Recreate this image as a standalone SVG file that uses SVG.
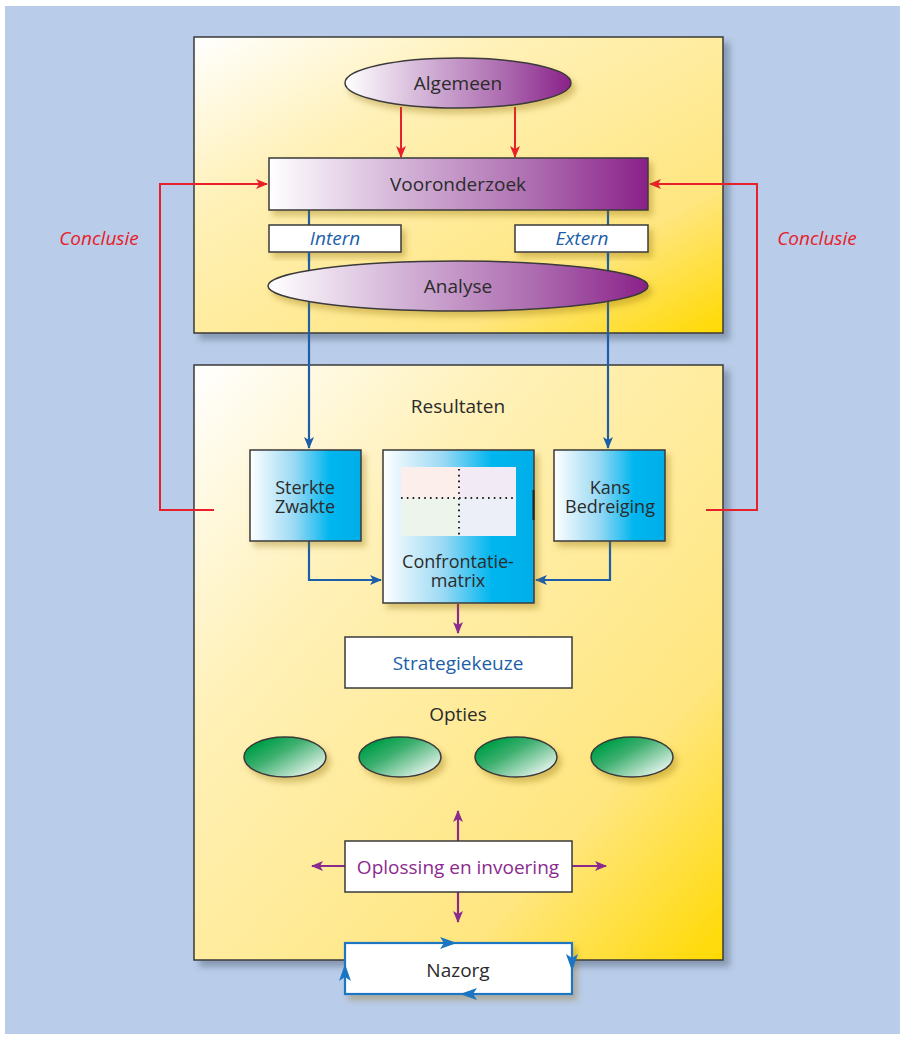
<svg xmlns="http://www.w3.org/2000/svg" width="905" height="1039" viewBox="0 0 905 1039">
<defs>
<style>
.t{font-family:"Open Sans","Noto Sans","Liberation Sans",sans-serif;font-size:19px;fill:#2b2b2b;text-anchor:middle}
.s{font-size:18px}
.it{font-style:italic}
.nb{stroke:#3a3a3a;stroke-width:1.5}
.red{stroke:#e8202a;stroke-width:2;fill:none}
.blue{stroke:#1c5ea8;stroke-width:2.2;fill:none}
.pur{stroke:#8b2a8e;stroke-width:2.2;fill:none}
</style>
<linearGradient id="panel" x1="0" y1="0" x2="1" y2="1">
<stop offset="0" stop-color="#ffffff"/>
<stop offset="0.3" stop-color="#fff1b8"/>
<stop offset="0.75" stop-color="#ffe680"/>
<stop offset="1" stop-color="#ffd900"/>
</linearGradient>
<linearGradient id="purp" x1="0" y1="0" x2="1" y2="0">
<stop offset="0" stop-color="#ffffff"/>
<stop offset="0.35" stop-color="#d3b3d7"/>
<stop offset="0.7" stop-color="#ad6cb0"/>
<stop offset="1" stop-color="#8a2189"/>
</linearGradient>
<linearGradient id="cyan" x1="0" y1="0" x2="1" y2="0">
<stop offset="0" stop-color="#ffffff"/>
<stop offset="0.4" stop-color="#9ad9f4"/>
<stop offset="0.72" stop-color="#00b6ef"/>
<stop offset="1" stop-color="#00aee8"/>
</linearGradient>
<linearGradient id="green" x1="0.15" y1="0.2" x2="0.9" y2="0.85">
<stop offset="0" stop-color="#00a04a"/>
<stop offset="0.35" stop-color="#3fb070"/>
<stop offset="1" stop-color="#e6f4ec"/>
</linearGradient>
<filter id="psh" x="-5%" y="-5%" width="115%" height="115%">
<feDropShadow dx="6" dy="6" stdDeviation="3" flood-color="#4a5a70" flood-opacity="0.45"/>
</filter>
<filter id="nsh" x="-10%" y="-10%" width="130%" height="140%">
<feDropShadow dx="4" dy="5" stdDeviation="3" flood-color="#8a6a00" flood-opacity="0.35"/>
</filter>
<marker id="ar" viewBox="0 0 12 10" refX="11" refY="5" markerWidth="12" markerHeight="10" markerUnits="userSpaceOnUse" orient="auto">
<path d="M0,0 L12,5 L0,10 L3,5 z" fill="#e8202a"/>
</marker>
<marker id="ab" viewBox="0 0 12 10" refX="11" refY="5" markerWidth="12" markerHeight="10" markerUnits="userSpaceOnUse" orient="auto">
<path d="M0,0 L12,5 L0,10 L3,5 z" fill="#1c5ea8"/>
</marker>
<marker id="ap" viewBox="0 0 12 10" refX="11" refY="5" markerWidth="12" markerHeight="10" markerUnits="userSpaceOnUse" orient="auto">
<path d="M0,0 L12,5 L0,10 L3,5 z" fill="#8b2a8e"/>
</marker>
</defs>

<rect x="5" y="6" width="895" height="1028" fill="#b9cce9"/>

<g id="panel-top">
<rect x="194" y="37" width="529" height="296" fill="url(#panel)" class="nb" filter="url(#psh)"/>
</g>
<g id="panel-bottom">
<rect x="194" y="365" width="529" height="595" fill="url(#panel)" class="nb" filter="url(#psh)"/>
</g>

<g id="connectors">
<line x1="401" y1="107" x2="401" y2="157" class="red" marker-end="url(#ar)"/>
<line x1="515" y1="107" x2="515" y2="157" class="red" marker-end="url(#ar)"/>
<polyline points="214,510 160,510 160,184 267,184" class="red" marker-end="url(#ar)"/>
<polyline points="706,510 757,510 757,184 650,184" class="red" marker-end="url(#ar)"/>
<line x1="309" y1="210" x2="309" y2="448" class="blue" marker-end="url(#ab)"/>
<line x1="608" y1="210" x2="608" y2="448" class="blue" marker-end="url(#ab)"/>
<polyline points="309,541 309,580 381,580" class="blue" marker-end="url(#ab)"/>
<polyline points="610,541 610,580 536,580" class="blue" marker-end="url(#ab)"/>
<line x1="458" y1="604" x2="458" y2="633" class="pur" marker-end="url(#ap)"/>
<line x1="458" y1="841" x2="458" y2="811" class="pur" marker-end="url(#ap)"/>
<line x1="458" y1="892" x2="458" y2="922" class="pur" marker-end="url(#ap)"/>
<line x1="345" y1="866" x2="312" y2="866" class="pur" marker-end="url(#ap)"/>
<line x1="572" y1="866" x2="606" y2="866" class="pur" marker-end="url(#ap)"/>
</g>

<g id="algemeen">
<ellipse cx="458" cy="83" rx="113" ry="25" fill="url(#purp)" class="nb" filter="url(#nsh)"/>
<text x="458" y="90" class="t">Algemeen</text>
</g>

<g id="vooronderzoek">
<rect x="269" y="158" width="379" height="52" fill="url(#purp)" class="nb" filter="url(#nsh)"/>
<text x="458" y="191" class="t">Vooronderzoek</text>
</g>

<g id="intern">
<rect x="269" y="225" width="132" height="27" fill="#ffffff" class="nb" filter="url(#nsh)"/>
<text x="335" y="245" class="t it" style="fill:#1c5ea8">Intern</text>
</g>
<g id="extern">
<rect x="515" y="225" width="133" height="27" fill="#ffffff" class="nb" filter="url(#nsh)"/>
<text x="582" y="245" class="t it" style="fill:#1c5ea8">Extern</text>
</g>

<g id="blue-over">
<line x1="309" y1="252" x2="309" y2="262" class="blue"/>
<line x1="608" y1="252" x2="608" y2="262" class="blue"/>
</g>

<g id="analyse">
<ellipse cx="458" cy="286" rx="190" ry="25" fill="url(#purp)" class="nb" filter="url(#nsh)"/>
<text x="458" y="293" class="t">Analyse</text>
</g>

<g id="conclusie-labels">
<text x="99" y="245" class="t it" style="fill:#e8202a">Conclusie</text>
<text x="817" y="245" class="t it" style="fill:#e8202a">Conclusie</text>
</g>

<g id="resultaten">
<text x="458" y="413" class="t">Resultaten</text>
</g>

<g id="sterkte">
<rect x="250" y="450" width="111" height="91" fill="url(#cyan)" class="nb" filter="url(#nsh)"/>
<text x="305" y="494" class="t s">Sterkte</text>
<text x="305" y="513" class="t s">Zwakte</text>
</g>

<g id="kans">
<rect x="554" y="450" width="111" height="91" fill="url(#cyan)" class="nb" filter="url(#nsh)"/>
<text x="610" y="494" class="t s">Kans</text>
<text x="610" y="513" class="t s">Bedreiging</text>
</g>

<g id="confrontatiematrix">
<rect x="383" y="450" width="151" height="153" fill="url(#cyan)" class="nb" filter="url(#nsh)"/>
<rect x="401" y="467" width="115" height="69" rx="2" fill="#ffffff" opacity="0.95"/>
<rect x="401" y="467" width="58" height="31" fill="#fcefeb"/>
<rect x="459" y="467" width="57" height="31" fill="#f2eaf5"/>
<rect x="401" y="498" width="58" height="38" fill="#edf4ec"/>
<rect x="459" y="498" width="57" height="38" fill="#eceef8"/>
<line x1="401" y1="498" x2="516" y2="498" stroke="#222" stroke-width="2" stroke-dasharray="1.6 4.2"/>
<line x1="459" y1="469" x2="459" y2="536" stroke="#222" stroke-width="2" stroke-dasharray="1.6 4.2"/>
<line x1="533.5" y1="490" x2="533.5" y2="520" stroke="#222" stroke-width="2"/>
<text x="458" y="568" class="t s">Confrontatie-</text>
<text x="458" y="587" class="t s">matrix</text>
</g>

<g id="strategiekeuze">
<rect x="345" y="637" width="227" height="51" fill="#ffffff" class="nb"/>
<text x="458" y="670" class="t" style="fill:#1c5ea8">Strategiekeuze</text>
</g>

<g id="opties">
<text x="458" y="721" class="t">Opties</text>
<ellipse cx="285" cy="757" rx="41" ry="20" fill="url(#green)" class="nb" filter="url(#nsh)"/>
<ellipse cx="400" cy="757" rx="41" ry="20" fill="url(#green)" class="nb" filter="url(#nsh)"/>
<ellipse cx="516" cy="757" rx="41" ry="20" fill="url(#green)" class="nb" filter="url(#nsh)"/>
<ellipse cx="632" cy="757" rx="41" ry="20" fill="url(#green)" class="nb" filter="url(#nsh)"/>
</g>

<g id="oplossing">
<rect x="345" y="841" width="227" height="51" fill="#ffffff" class="nb"/>
<text x="458" y="874" class="t" style="fill:#8b2a8e">Oplossing en invoering</text>
</g>

<g id="nazorg">
<rect x="345" y="943" width="227" height="51" fill="#ffffff" stroke="#1a76c2" stroke-width="2.2" filter="url(#nsh)"/>
<text x="458" y="977" class="t">Nazorg</text>
<path d="M440,937 L457,943 L440,949 L444,943 z" fill="#1a76c2"/>
<path d="M566,954 L572,971 L578,954 L572,958 z" fill="#1a76c2"/>
<path d="M477,988 L460,994 L477,1000 L473,994 z" fill="#1a76c2"/>
<path d="M339,981 L345,964 L351,981 L345,977 z" fill="#1a76c2"/>
</g>
</svg>
